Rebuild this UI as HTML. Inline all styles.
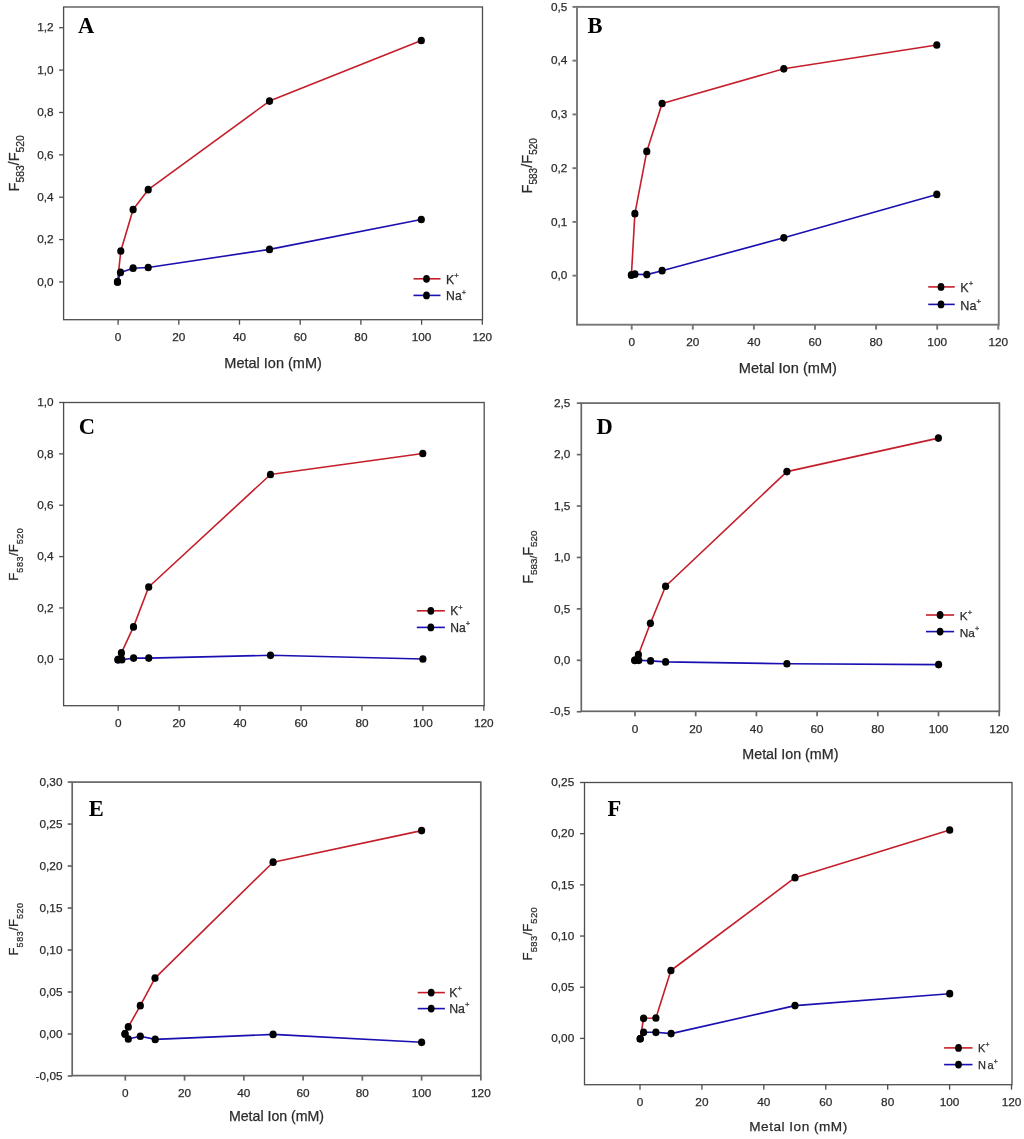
<!DOCTYPE html>
<html><head><meta charset="utf-8"><style>
html,body{margin:0;padding:0;background:#fff;}
svg{display:block;will-change:transform;}
text{font-family:"Liberation Sans",sans-serif;fill:#2b2b2b;stroke:#2b2b2b;stroke-width:0.25px;}
.tk{font-size:11.8px;}
.lg{font-size:12.3px;}
.sup{font-size:8.5px;}
.xl{font-size:14px;}
.yl{font-size:14.5px;}
.sub{font-size:9.5px;}
.pl{font-family:"Liberation Serif",serif;font-weight:bold;font-size:22.5px;fill:#000;stroke:none;}
</style></head><body>
<svg width="1024" height="1139" viewBox="0 0 1024 1139">
<rect width="1024" height="1139" fill="#fff"/>
<rect x="63.6" y="7" width="418.9" height="312.7" fill="none" stroke="#4d4d4d" stroke-width="1.3"/>
<line x1="59.1" y1="281.95" x2="63.6" y2="281.95" stroke="#4d4d4d" stroke-width="1.3"/>
<text x="53.6" y="285.65" text-anchor="end" class="tk">0,0</text>
<line x1="59.1" y1="239.58" x2="63.6" y2="239.58" stroke="#4d4d4d" stroke-width="1.3"/>
<text x="53.6" y="243.28" text-anchor="end" class="tk">0,2</text>
<line x1="59.1" y1="197.21" x2="63.6" y2="197.21" stroke="#4d4d4d" stroke-width="1.3"/>
<text x="53.6" y="200.91" text-anchor="end" class="tk">0,4</text>
<line x1="59.1" y1="154.84" x2="63.6" y2="154.84" stroke="#4d4d4d" stroke-width="1.3"/>
<text x="53.6" y="158.54" text-anchor="end" class="tk">0,6</text>
<line x1="59.1" y1="112.47" x2="63.6" y2="112.47" stroke="#4d4d4d" stroke-width="1.3"/>
<text x="53.6" y="116.17" text-anchor="end" class="tk">0,8</text>
<line x1="59.1" y1="70.1" x2="63.6" y2="70.1" stroke="#4d4d4d" stroke-width="1.3"/>
<text x="53.6" y="73.8" text-anchor="end" class="tk">1,0</text>
<line x1="59.1" y1="27.73" x2="63.6" y2="27.73" stroke="#4d4d4d" stroke-width="1.3"/>
<text x="53.6" y="31.43" text-anchor="end" class="tk">1,2</text>
<line x1="118.1" y1="319.7" x2="118.1" y2="324.7" stroke="#4d4d4d" stroke-width="1.3"/>
<text x="118.1" y="340.9" text-anchor="middle" class="tk">0</text>
<line x1="178.8" y1="319.7" x2="178.8" y2="324.7" stroke="#4d4d4d" stroke-width="1.3"/>
<text x="178.8" y="340.9" text-anchor="middle" class="tk">20</text>
<line x1="239.5" y1="319.7" x2="239.5" y2="324.7" stroke="#4d4d4d" stroke-width="1.3"/>
<text x="239.5" y="340.9" text-anchor="middle" class="tk">40</text>
<line x1="300.2" y1="319.7" x2="300.2" y2="324.7" stroke="#4d4d4d" stroke-width="1.3"/>
<text x="300.2" y="340.9" text-anchor="middle" class="tk">60</text>
<line x1="360.9" y1="319.7" x2="360.9" y2="324.7" stroke="#4d4d4d" stroke-width="1.3"/>
<text x="360.9" y="340.9" text-anchor="middle" class="tk">80</text>
<line x1="421.6" y1="319.7" x2="421.6" y2="324.7" stroke="#4d4d4d" stroke-width="1.3"/>
<text x="421.6" y="340.9" text-anchor="middle" class="tk">100</text>
<line x1="482.3" y1="319.7" x2="482.3" y2="324.7" stroke="#4d4d4d" stroke-width="1.3"/>
<text x="482.3" y="340.9" text-anchor="middle" class="tk">120</text>
<polyline points="117.5,281.9 120.8,251 133.1,209.6 148.2,189.7 269.5,101.05 421.3,40.5" fill="none" stroke="#c41e2a" stroke-width="1.6" stroke-linejoin="round"/>
<polyline points="117.5,281.9 120.5,272.4 133.1,268.2 148.2,267.5 269.5,249.4 421.3,219.5" fill="none" stroke="#1a0fb0" stroke-width="1.6" stroke-linejoin="round"/>
<ellipse cx="117.5" cy="281.9" rx="3.6" ry="3.85" fill="#000"/>
<ellipse cx="120.5" cy="272.4" rx="3.6" ry="3.85" fill="#000"/>
<ellipse cx="133.1" cy="268.2" rx="3.6" ry="3.85" fill="#000"/>
<ellipse cx="148.2" cy="267.5" rx="3.6" ry="3.85" fill="#000"/>
<ellipse cx="269.5" cy="249.4" rx="3.6" ry="3.85" fill="#000"/>
<ellipse cx="421.3" cy="219.5" rx="3.6" ry="3.85" fill="#000"/>
<ellipse cx="117.5" cy="281.9" rx="3.6" ry="3.85" fill="#000"/>
<ellipse cx="120.8" cy="251" rx="3.6" ry="3.85" fill="#000"/>
<ellipse cx="133.1" cy="209.6" rx="3.6" ry="3.85" fill="#000"/>
<ellipse cx="148.2" cy="189.7" rx="3.6" ry="3.85" fill="#000"/>
<ellipse cx="269.5" cy="101.05" rx="3.6" ry="3.85" fill="#000"/>
<ellipse cx="421.3" cy="40.5" rx="3.6" ry="3.85" fill="#000"/>
<line x1="413.5" y1="278.8" x2="440.5" y2="278.8" stroke="#c41e2a" stroke-width="1.6"/>
<line x1="413.5" y1="295.4" x2="440.5" y2="295.4" stroke="#1a0fb0" stroke-width="1.6"/>
<ellipse cx="426.5" cy="278.8" rx="3.4" ry="3.9" fill="#000"/>
<ellipse cx="426.5" cy="295.4" rx="3.4" ry="3.9" fill="#000"/>
<text x="446.08" y="283.8" class="lg" style="font-size:12.2px">K<tspan dy="-5.37" style="font-size:7.56px">+</tspan></text>
<text x="446.08" y="300.4" class="lg" style="font-size:12.2px">N<tspan dx="0">a</tspan><tspan dy="-5.37" style="font-size:7.56px">+</tspan></text>
<text x="78.1" y="33.1" class="pl">A</text>
<text x="273.05" y="367.6" text-anchor="middle" class="xl" style="font-size:14.5px;letter-spacing:0px">Metal Ion (mM)</text>
<text transform="translate(18.9,163.35) rotate(-90)" text-anchor="middle" class="yl" style="font-size:14.6px">F<tspan style="font-size:10.3px;letter-spacing:0px" dy="4.6">583</tspan><tspan dy="-4.6">/F</tspan><tspan style="font-size:10.3px;letter-spacing:0px" dy="4.6">520</tspan></text>
<rect x="577" y="6.9" width="421.75" height="317.8" fill="none" stroke="#777777" stroke-width="1.9"/>
<line x1="572.5" y1="275.65" x2="577" y2="275.65" stroke="#777777" stroke-width="1.9"/>
<text x="567.3" y="279.35" text-anchor="end" class="tk">0,0</text>
<line x1="572.5" y1="221.9" x2="577" y2="221.9" stroke="#777777" stroke-width="1.9"/>
<text x="567.3" y="225.6" text-anchor="end" class="tk">0,1</text>
<line x1="572.5" y1="168.15" x2="577" y2="168.15" stroke="#777777" stroke-width="1.9"/>
<text x="567.3" y="171.85" text-anchor="end" class="tk">0,2</text>
<line x1="572.5" y1="114.4" x2="577" y2="114.4" stroke="#777777" stroke-width="1.9"/>
<text x="567.3" y="118.1" text-anchor="end" class="tk">0,3</text>
<line x1="572.5" y1="60.65" x2="577" y2="60.65" stroke="#777777" stroke-width="1.9"/>
<text x="567.3" y="64.35" text-anchor="end" class="tk">0,4</text>
<line x1="572.5" y1="6.9" x2="577" y2="6.9" stroke="#777777" stroke-width="1.9"/>
<text x="567.3" y="10.6" text-anchor="end" class="tk">0,5</text>
<line x1="631.7" y1="324.7" x2="631.7" y2="329.7" stroke="#777777" stroke-width="1.9"/>
<text x="631.7" y="345.9" text-anchor="middle" class="tk">0</text>
<line x1="692.8" y1="324.7" x2="692.8" y2="329.7" stroke="#777777" stroke-width="1.9"/>
<text x="692.8" y="345.9" text-anchor="middle" class="tk">20</text>
<line x1="753.9" y1="324.7" x2="753.9" y2="329.7" stroke="#777777" stroke-width="1.9"/>
<text x="753.9" y="345.9" text-anchor="middle" class="tk">40</text>
<line x1="815" y1="324.7" x2="815" y2="329.7" stroke="#777777" stroke-width="1.9"/>
<text x="815" y="345.9" text-anchor="middle" class="tk">60</text>
<line x1="876.1" y1="324.7" x2="876.1" y2="329.7" stroke="#777777" stroke-width="1.9"/>
<text x="876.1" y="345.9" text-anchor="middle" class="tk">80</text>
<line x1="937.2" y1="324.7" x2="937.2" y2="329.7" stroke="#777777" stroke-width="1.9"/>
<text x="937.2" y="345.9" text-anchor="middle" class="tk">100</text>
<line x1="998.3" y1="324.7" x2="998.3" y2="329.7" stroke="#777777" stroke-width="1.9"/>
<text x="998.3" y="345.9" text-anchor="middle" class="tk">120</text>
<polyline points="631.4,275 634.9,213.7 646.8,151.4 662.1,103.5 783.8,68.8 936.8,45" fill="none" stroke="#c41e2a" stroke-width="1.6" stroke-linejoin="round"/>
<polyline points="631.4,275 634.9,274.2 646.8,274.6 662.1,270.7 783.8,237.8 936.8,194.4" fill="none" stroke="#1a0fb0" stroke-width="1.6" stroke-linejoin="round"/>
<ellipse cx="631.4" cy="275" rx="3.6" ry="3.85" fill="#000"/>
<ellipse cx="634.9" cy="274.2" rx="3.6" ry="3.85" fill="#000"/>
<ellipse cx="646.8" cy="274.6" rx="3.6" ry="3.85" fill="#000"/>
<ellipse cx="662.1" cy="270.7" rx="3.6" ry="3.85" fill="#000"/>
<ellipse cx="783.8" cy="237.8" rx="3.6" ry="3.85" fill="#000"/>
<ellipse cx="936.8" cy="194.4" rx="3.6" ry="3.85" fill="#000"/>
<ellipse cx="631.4" cy="275" rx="3.6" ry="3.85" fill="#000"/>
<ellipse cx="634.9" cy="213.7" rx="3.6" ry="3.85" fill="#000"/>
<ellipse cx="646.8" cy="151.4" rx="3.6" ry="3.85" fill="#000"/>
<ellipse cx="662.1" cy="103.5" rx="3.6" ry="3.85" fill="#000"/>
<ellipse cx="783.8" cy="68.8" rx="3.6" ry="3.85" fill="#000"/>
<ellipse cx="936.8" cy="45" rx="3.6" ry="3.85" fill="#000"/>
<line x1="928.25" y1="286.9" x2="954.75" y2="286.9" stroke="#c41e2a" stroke-width="1.6"/>
<line x1="928.25" y1="304.4" x2="954.75" y2="304.4" stroke="#1a0fb0" stroke-width="1.6"/>
<ellipse cx="941" cy="286.9" rx="3.4" ry="3.9" fill="#000"/>
<ellipse cx="941" cy="304.4" rx="3.4" ry="3.9" fill="#000"/>
<text x="960.3" y="292" class="lg" style="font-size:12.6px">K<tspan dy="-5.54" style="font-size:7.81px">+</tspan></text>
<text x="960.3" y="309.5" class="lg" style="font-size:12.6px">N<tspan dx="0">a</tspan><tspan dy="-5.54" style="font-size:7.81px">+</tspan></text>
<text x="587.5" y="33.1" class="pl">B</text>
<text x="787.88" y="372.6" text-anchor="middle" class="xl" style="font-size:14.6px;letter-spacing:0px">Metal Ion (mM)</text>
<text transform="translate(532.3,165.8) rotate(-90)" text-anchor="middle" class="yl" style="font-size:14.6px">F<tspan style="font-size:10.0px;letter-spacing:0px" dy="4.8">583</tspan><tspan dy="-4.8">/F</tspan><tspan style="font-size:10.0px;letter-spacing:0px" dy="4.8">520</tspan></text>
<rect x="63.6" y="402.5" width="420.6" height="303.2" fill="none" stroke="#4d4d4d" stroke-width="1.3"/>
<line x1="59.1" y1="659.3" x2="63.6" y2="659.3" stroke="#4d4d4d" stroke-width="1.3"/>
<text x="53.6" y="663" text-anchor="end" class="tk">0,0</text>
<line x1="59.1" y1="607.94" x2="63.6" y2="607.94" stroke="#4d4d4d" stroke-width="1.3"/>
<text x="53.6" y="611.64" text-anchor="end" class="tk">0,2</text>
<line x1="59.1" y1="556.58" x2="63.6" y2="556.58" stroke="#4d4d4d" stroke-width="1.3"/>
<text x="53.6" y="560.28" text-anchor="end" class="tk">0,4</text>
<line x1="59.1" y1="505.22" x2="63.6" y2="505.22" stroke="#4d4d4d" stroke-width="1.3"/>
<text x="53.6" y="508.92" text-anchor="end" class="tk">0,6</text>
<line x1="59.1" y1="453.86" x2="63.6" y2="453.86" stroke="#4d4d4d" stroke-width="1.3"/>
<text x="53.6" y="457.56" text-anchor="end" class="tk">0,8</text>
<line x1="59.1" y1="402.5" x2="63.6" y2="402.5" stroke="#4d4d4d" stroke-width="1.3"/>
<text x="53.6" y="406.2" text-anchor="end" class="tk">1,0</text>
<line x1="118.2" y1="705.7" x2="118.2" y2="710.7" stroke="#4d4d4d" stroke-width="1.3"/>
<text x="118.2" y="726.9" text-anchor="middle" class="tk">0</text>
<line x1="179.14" y1="705.7" x2="179.14" y2="710.7" stroke="#4d4d4d" stroke-width="1.3"/>
<text x="179.14" y="726.9" text-anchor="middle" class="tk">20</text>
<line x1="240.08" y1="705.7" x2="240.08" y2="710.7" stroke="#4d4d4d" stroke-width="1.3"/>
<text x="240.08" y="726.9" text-anchor="middle" class="tk">40</text>
<line x1="301.02" y1="705.7" x2="301.02" y2="710.7" stroke="#4d4d4d" stroke-width="1.3"/>
<text x="301.02" y="726.9" text-anchor="middle" class="tk">60</text>
<line x1="361.96" y1="705.7" x2="361.96" y2="710.7" stroke="#4d4d4d" stroke-width="1.3"/>
<text x="361.96" y="726.9" text-anchor="middle" class="tk">80</text>
<line x1="422.9" y1="705.7" x2="422.9" y2="710.7" stroke="#4d4d4d" stroke-width="1.3"/>
<text x="422.9" y="726.9" text-anchor="middle" class="tk">100</text>
<line x1="483.84" y1="705.7" x2="483.84" y2="710.7" stroke="#4d4d4d" stroke-width="1.3"/>
<text x="483.84" y="726.9" text-anchor="middle" class="tk">120</text>
<polyline points="118,659.7 121.4,652.9 133.5,626.9 148.7,587 270.5,474.5 422.8,453.5" fill="none" stroke="#c41e2a" stroke-width="1.6" stroke-linejoin="round"/>
<polyline points="118,659.7 121.9,659.7 133.6,658.1 148.75,658.1 270.5,655.3 422.9,659" fill="none" stroke="#1a0fb0" stroke-width="1.6" stroke-linejoin="round"/>
<ellipse cx="118" cy="659.7" rx="3.6" ry="3.85" fill="#000"/>
<ellipse cx="121.9" cy="659.7" rx="3.6" ry="3.85" fill="#000"/>
<ellipse cx="133.6" cy="658.1" rx="3.6" ry="3.85" fill="#000"/>
<ellipse cx="148.75" cy="658.1" rx="3.6" ry="3.85" fill="#000"/>
<ellipse cx="270.5" cy="655.3" rx="3.6" ry="3.85" fill="#000"/>
<ellipse cx="422.9" cy="659" rx="3.6" ry="3.85" fill="#000"/>
<ellipse cx="118" cy="659.7" rx="3.6" ry="3.85" fill="#000"/>
<ellipse cx="121.4" cy="652.9" rx="3.6" ry="3.85" fill="#000"/>
<ellipse cx="133.5" cy="626.9" rx="3.6" ry="3.85" fill="#000"/>
<ellipse cx="148.7" cy="587" rx="3.6" ry="3.85" fill="#000"/>
<ellipse cx="270.5" cy="474.5" rx="3.6" ry="3.85" fill="#000"/>
<ellipse cx="422.8" cy="453.5" rx="3.6" ry="3.85" fill="#000"/>
<line x1="416.8" y1="610.8" x2="444.9" y2="610.8" stroke="#c41e2a" stroke-width="1.6"/>
<line x1="416.8" y1="627.4" x2="444.9" y2="627.4" stroke="#1a0fb0" stroke-width="1.6"/>
<ellipse cx="430.8" cy="610.8" rx="3.4" ry="3.9" fill="#000"/>
<ellipse cx="430.8" cy="627.4" rx="3.4" ry="3.9" fill="#000"/>
<text x="450.19" y="615.2" class="lg" style="font-size:12.1px">K<tspan dy="-5.32" style="font-size:7.5px">+</tspan></text>
<text x="450.19" y="631.8" class="lg" style="font-size:12.1px">N<tspan dx="0">a</tspan><tspan dy="-5.32" style="font-size:7.5px">+</tspan></text>
<text x="78.75" y="433.75" class="pl">C</text>
<text transform="translate(17.9,554.1) rotate(-90)" text-anchor="middle" class="yl" style="font-size:13.0px">F<tspan style="font-size:9.0px;letter-spacing:0.6px" dy="5.4">583</tspan><tspan dy="-5.4">/F</tspan><tspan style="font-size:9.0px;letter-spacing:0.6px" dy="5.4">520</tspan></text>
<rect x="581.3" y="403.1" width="418.1" height="308.2" fill="none" stroke="#666666" stroke-width="1.7"/>
<line x1="576.8" y1="711.72" x2="581.3" y2="711.72" stroke="#666666" stroke-width="1.7"/>
<text x="570.3" y="715.42" text-anchor="end" class="tk">-0,5</text>
<line x1="576.8" y1="660.3" x2="581.3" y2="660.3" stroke="#666666" stroke-width="1.7"/>
<text x="570.3" y="664" text-anchor="end" class="tk">0,0</text>
<line x1="576.8" y1="608.88" x2="581.3" y2="608.88" stroke="#666666" stroke-width="1.7"/>
<text x="570.3" y="612.58" text-anchor="end" class="tk">0,5</text>
<line x1="576.8" y1="557.45" x2="581.3" y2="557.45" stroke="#666666" stroke-width="1.7"/>
<text x="570.3" y="561.15" text-anchor="end" class="tk">1,0</text>
<line x1="576.8" y1="506.02" x2="581.3" y2="506.02" stroke="#666666" stroke-width="1.7"/>
<text x="570.3" y="509.72" text-anchor="end" class="tk">1,5</text>
<line x1="576.8" y1="454.6" x2="581.3" y2="454.6" stroke="#666666" stroke-width="1.7"/>
<text x="570.3" y="458.3" text-anchor="end" class="tk">2,0</text>
<line x1="576.8" y1="403.17" x2="581.3" y2="403.17" stroke="#666666" stroke-width="1.7"/>
<text x="570.3" y="406.87" text-anchor="end" class="tk">2,5</text>
<line x1="635" y1="711.3" x2="635" y2="716.3" stroke="#666666" stroke-width="1.7"/>
<text x="635" y="732.5" text-anchor="middle" class="tk">0</text>
<line x1="695.7" y1="711.3" x2="695.7" y2="716.3" stroke="#666666" stroke-width="1.7"/>
<text x="695.7" y="732.5" text-anchor="middle" class="tk">20</text>
<line x1="756.4" y1="711.3" x2="756.4" y2="716.3" stroke="#666666" stroke-width="1.7"/>
<text x="756.4" y="732.5" text-anchor="middle" class="tk">40</text>
<line x1="817.1" y1="711.3" x2="817.1" y2="716.3" stroke="#666666" stroke-width="1.7"/>
<text x="817.1" y="732.5" text-anchor="middle" class="tk">60</text>
<line x1="877.8" y1="711.3" x2="877.8" y2="716.3" stroke="#666666" stroke-width="1.7"/>
<text x="877.8" y="732.5" text-anchor="middle" class="tk">80</text>
<line x1="938.5" y1="711.3" x2="938.5" y2="716.3" stroke="#666666" stroke-width="1.7"/>
<text x="938.5" y="732.5" text-anchor="middle" class="tk">100</text>
<line x1="999.2" y1="711.3" x2="999.2" y2="716.3" stroke="#666666" stroke-width="1.7"/>
<text x="999.2" y="732.5" text-anchor="middle" class="tk">120</text>
<polyline points="634.8,660.3 638.4,654.7 650.4,623.3 665.6,586.25 786.9,471.6 938.4,438.1" fill="none" stroke="#c41e2a" stroke-width="1.6" stroke-linejoin="round"/>
<polyline points="634.8,660.3 638.75,660.3 650.6,660.9 665.6,661.9 786.9,663.75 938.6,664.6" fill="none" stroke="#1a0fb0" stroke-width="1.6" stroke-linejoin="round"/>
<ellipse cx="634.8" cy="660.3" rx="3.6" ry="3.85" fill="#000"/>
<ellipse cx="638.75" cy="660.3" rx="3.6" ry="3.85" fill="#000"/>
<ellipse cx="650.6" cy="660.9" rx="3.6" ry="3.85" fill="#000"/>
<ellipse cx="665.6" cy="661.9" rx="3.6" ry="3.85" fill="#000"/>
<ellipse cx="786.9" cy="663.75" rx="3.6" ry="3.85" fill="#000"/>
<ellipse cx="938.6" cy="664.6" rx="3.6" ry="3.85" fill="#000"/>
<ellipse cx="634.8" cy="660.3" rx="3.6" ry="3.85" fill="#000"/>
<ellipse cx="638.4" cy="654.7" rx="3.6" ry="3.85" fill="#000"/>
<ellipse cx="650.4" cy="623.3" rx="3.6" ry="3.85" fill="#000"/>
<ellipse cx="665.6" cy="586.25" rx="3.6" ry="3.85" fill="#000"/>
<ellipse cx="786.9" cy="471.6" rx="3.6" ry="3.85" fill="#000"/>
<ellipse cx="938.4" cy="438.1" rx="3.6" ry="3.85" fill="#000"/>
<line x1="926" y1="615" x2="954.1" y2="615" stroke="#c41e2a" stroke-width="1.6"/>
<line x1="926" y1="631.6" x2="954.1" y2="631.6" stroke="#1a0fb0" stroke-width="1.6"/>
<ellipse cx="940.1" cy="615" rx="3.4" ry="3.9" fill="#000"/>
<ellipse cx="940.1" cy="631.6" rx="3.4" ry="3.9" fill="#000"/>
<text x="959.82" y="620" class="lg" style="font-size:11.8px">K<tspan dy="-5.19" style="font-size:7.32px">+</tspan></text>
<text x="959.82" y="636.6" class="lg" style="font-size:11.8px">N<tspan dx="0">a</tspan><tspan dy="-5.19" style="font-size:7.32px">+</tspan></text>
<text x="596.5" y="433.75" class="pl">D</text>
<text x="790.35" y="758.9" text-anchor="middle" class="xl" style="font-size:14.3px;letter-spacing:0px">Metal Ion (mM)</text>
<text transform="translate(532.5,557.2) rotate(-90)" text-anchor="middle" class="yl" style="font-size:14.6px">F<tspan style="font-size:9.8px;letter-spacing:0px" dy="4.6">583/</tspan><tspan dy="-4.6">F</tspan><tspan style="font-size:9.8px;letter-spacing:0px" dy="4.6">520</tspan></text>
<rect x="72.2" y="782.1" width="408.6" height="293.5" fill="none" stroke="#666666" stroke-width="1.7"/>
<line x1="67.7" y1="1075.98" x2="72.2" y2="1075.98" stroke="#666666" stroke-width="1.7"/>
<text x="62.5" y="1079.68" text-anchor="end" class="tk">-0,05</text>
<line x1="67.7" y1="1034" x2="72.2" y2="1034" stroke="#666666" stroke-width="1.7"/>
<text x="62.5" y="1037.7" text-anchor="end" class="tk">0,00</text>
<line x1="67.7" y1="992.01" x2="72.2" y2="992.01" stroke="#666666" stroke-width="1.7"/>
<text x="62.5" y="995.72" text-anchor="end" class="tk">0,05</text>
<line x1="67.7" y1="950.03" x2="72.2" y2="950.03" stroke="#666666" stroke-width="1.7"/>
<text x="62.5" y="953.73" text-anchor="end" class="tk">0,10</text>
<line x1="67.7" y1="908.04" x2="72.2" y2="908.04" stroke="#666666" stroke-width="1.7"/>
<text x="62.5" y="911.75" text-anchor="end" class="tk">0,15</text>
<line x1="67.7" y1="866.06" x2="72.2" y2="866.06" stroke="#666666" stroke-width="1.7"/>
<text x="62.5" y="869.76" text-anchor="end" class="tk">0,20</text>
<line x1="67.7" y1="824.08" x2="72.2" y2="824.08" stroke="#666666" stroke-width="1.7"/>
<text x="62.5" y="827.78" text-anchor="end" class="tk">0,25</text>
<line x1="67.7" y1="782.09" x2="72.2" y2="782.09" stroke="#666666" stroke-width="1.7"/>
<text x="62.5" y="785.79" text-anchor="end" class="tk">0,30</text>
<line x1="125.3" y1="1075.6" x2="125.3" y2="1080.6" stroke="#666666" stroke-width="1.7"/>
<text x="125.3" y="1096.8" text-anchor="middle" class="tk">0</text>
<line x1="184.56" y1="1075.6" x2="184.56" y2="1080.6" stroke="#666666" stroke-width="1.7"/>
<text x="184.56" y="1096.8" text-anchor="middle" class="tk">20</text>
<line x1="243.82" y1="1075.6" x2="243.82" y2="1080.6" stroke="#666666" stroke-width="1.7"/>
<text x="243.82" y="1096.8" text-anchor="middle" class="tk">40</text>
<line x1="303.08" y1="1075.6" x2="303.08" y2="1080.6" stroke="#666666" stroke-width="1.7"/>
<text x="303.08" y="1096.8" text-anchor="middle" class="tk">60</text>
<line x1="362.34" y1="1075.6" x2="362.34" y2="1080.6" stroke="#666666" stroke-width="1.7"/>
<text x="362.34" y="1096.8" text-anchor="middle" class="tk">80</text>
<line x1="421.6" y1="1075.6" x2="421.6" y2="1080.6" stroke="#666666" stroke-width="1.7"/>
<text x="421.6" y="1096.8" text-anchor="middle" class="tk">100</text>
<line x1="480.86" y1="1075.6" x2="480.86" y2="1080.6" stroke="#666666" stroke-width="1.7"/>
<text x="480.86" y="1096.8" text-anchor="middle" class="tk">120</text>
<polyline points="125,1033.9 128.3,1026.9 140.3,1005.7 155,978.1 273.1,862.2 421.6,830.6" fill="none" stroke="#c41e2a" stroke-width="1.6" stroke-linejoin="round"/>
<polyline points="125,1033.9 128.3,1039 140.3,1036.25 155.2,1039.4 273.1,1034.4 421.6,1042.3" fill="none" stroke="#1a0fb0" stroke-width="1.6" stroke-linejoin="round"/>
<ellipse cx="125" cy="1033.9" rx="3.6" ry="3.85" fill="#000"/>
<ellipse cx="128.3" cy="1039" rx="3.6" ry="3.85" fill="#000"/>
<ellipse cx="140.3" cy="1036.25" rx="3.6" ry="3.85" fill="#000"/>
<ellipse cx="155.2" cy="1039.4" rx="3.6" ry="3.85" fill="#000"/>
<ellipse cx="273.1" cy="1034.4" rx="3.6" ry="3.85" fill="#000"/>
<ellipse cx="421.6" cy="1042.3" rx="3.6" ry="3.85" fill="#000"/>
<ellipse cx="125" cy="1033.9" rx="3.6" ry="3.85" fill="#000"/>
<ellipse cx="128.3" cy="1026.9" rx="3.6" ry="3.85" fill="#000"/>
<ellipse cx="140.3" cy="1005.7" rx="3.6" ry="3.85" fill="#000"/>
<ellipse cx="155" cy="978.1" rx="3.6" ry="3.85" fill="#000"/>
<ellipse cx="273.1" cy="862.2" rx="3.6" ry="3.85" fill="#000"/>
<ellipse cx="421.6" cy="830.6" rx="3.6" ry="3.85" fill="#000"/>
<line x1="417.7" y1="992.6" x2="444.9" y2="992.6" stroke="#c41e2a" stroke-width="1.6"/>
<line x1="417.7" y1="1008.6" x2="444.9" y2="1008.6" stroke="#1a0fb0" stroke-width="1.6"/>
<ellipse cx="431.2" cy="992.6" rx="3.4" ry="3.9" fill="#000"/>
<ellipse cx="431.2" cy="1008.6" rx="3.4" ry="3.9" fill="#000"/>
<text x="449.18" y="996.6" class="lg" style="font-size:12.3px">K<tspan dy="-5.41" style="font-size:7.63px">+</tspan></text>
<text x="449.18" y="1012.6" class="lg" style="font-size:12.3px">N<tspan dx="0">a</tspan><tspan dy="-5.41" style="font-size:7.63px">+</tspan></text>
<text x="88.75" y="815.6" class="pl">E</text>
<text x="276.5" y="1120.9" text-anchor="middle" class="xl" style="font-size:14.15px;letter-spacing:0px">Metal Ion (mM)</text>
<text transform="translate(17.9,928.85) rotate(-90)" text-anchor="middle" class="yl" style="font-size:13.0px">F<tspan style="font-size:9.0px;letter-spacing:0.6px" dy="5.4">583</tspan><tspan dy="-5.4">/F</tspan><tspan style="font-size:9.0px;letter-spacing:0.6px" dy="5.4">520</tspan></text>
<rect x="584.5" y="782.5" width="427.5" height="302.2" fill="none" stroke="#4d4d4d" stroke-width="1.3"/>
<line x1="580" y1="1038.4" x2="584.5" y2="1038.4" stroke="#4d4d4d" stroke-width="1.3"/>
<text x="574.25" y="1042.1" text-anchor="end" class="tk">0,00</text>
<line x1="580" y1="987.22" x2="584.5" y2="987.22" stroke="#4d4d4d" stroke-width="1.3"/>
<text x="574.25" y="990.92" text-anchor="end" class="tk">0,05</text>
<line x1="580" y1="936.04" x2="584.5" y2="936.04" stroke="#4d4d4d" stroke-width="1.3"/>
<text x="574.25" y="939.74" text-anchor="end" class="tk">0,10</text>
<line x1="580" y1="884.86" x2="584.5" y2="884.86" stroke="#4d4d4d" stroke-width="1.3"/>
<text x="574.25" y="888.56" text-anchor="end" class="tk">0,15</text>
<line x1="580" y1="833.68" x2="584.5" y2="833.68" stroke="#4d4d4d" stroke-width="1.3"/>
<text x="574.25" y="837.38" text-anchor="end" class="tk">0,20</text>
<line x1="580" y1="782.5" x2="584.5" y2="782.5" stroke="#4d4d4d" stroke-width="1.3"/>
<text x="574.25" y="786.2" text-anchor="end" class="tk">0,25</text>
<line x1="640" y1="1084.7" x2="640" y2="1089.7" stroke="#4d4d4d" stroke-width="1.3"/>
<text x="640" y="1105.9" text-anchor="middle" class="tk">0</text>
<line x1="701.92" y1="1084.7" x2="701.92" y2="1089.7" stroke="#4d4d4d" stroke-width="1.3"/>
<text x="701.92" y="1105.9" text-anchor="middle" class="tk">20</text>
<line x1="763.84" y1="1084.7" x2="763.84" y2="1089.7" stroke="#4d4d4d" stroke-width="1.3"/>
<text x="763.84" y="1105.9" text-anchor="middle" class="tk">40</text>
<line x1="825.76" y1="1084.7" x2="825.76" y2="1089.7" stroke="#4d4d4d" stroke-width="1.3"/>
<text x="825.76" y="1105.9" text-anchor="middle" class="tk">60</text>
<line x1="887.68" y1="1084.7" x2="887.68" y2="1089.7" stroke="#4d4d4d" stroke-width="1.3"/>
<text x="887.68" y="1105.9" text-anchor="middle" class="tk">80</text>
<line x1="949.6" y1="1084.7" x2="949.6" y2="1089.7" stroke="#4d4d4d" stroke-width="1.3"/>
<text x="949.6" y="1105.9" text-anchor="middle" class="tk">100</text>
<line x1="1011.52" y1="1084.7" x2="1011.52" y2="1089.7" stroke="#4d4d4d" stroke-width="1.3"/>
<text x="1011.52" y="1105.9" text-anchor="middle" class="tk">120</text>
<polyline points="640.2,1038.75 643.6,1018.3 655.9,1018 670.9,970.5 795,877.7 949.7,830" fill="none" stroke="#c41e2a" stroke-width="1.6" stroke-linejoin="round"/>
<polyline points="640.2,1038.75 643.6,1032.3 655.9,1032.3 671.1,1033.6 795,1005.6 949.7,993.7" fill="none" stroke="#1a0fb0" stroke-width="1.6" stroke-linejoin="round"/>
<ellipse cx="640.2" cy="1038.75" rx="3.6" ry="3.85" fill="#000"/>
<ellipse cx="643.6" cy="1032.3" rx="3.6" ry="3.85" fill="#000"/>
<ellipse cx="655.9" cy="1032.3" rx="3.6" ry="3.85" fill="#000"/>
<ellipse cx="671.1" cy="1033.6" rx="3.6" ry="3.85" fill="#000"/>
<ellipse cx="795" cy="1005.6" rx="3.6" ry="3.85" fill="#000"/>
<ellipse cx="949.7" cy="993.7" rx="3.6" ry="3.85" fill="#000"/>
<ellipse cx="640.2" cy="1038.75" rx="3.6" ry="3.85" fill="#000"/>
<ellipse cx="643.6" cy="1018.3" rx="3.6" ry="3.85" fill="#000"/>
<ellipse cx="655.9" cy="1018" rx="3.6" ry="3.85" fill="#000"/>
<ellipse cx="670.9" cy="970.5" rx="3.6" ry="3.85" fill="#000"/>
<ellipse cx="795" cy="877.7" rx="3.6" ry="3.85" fill="#000"/>
<ellipse cx="949.7" cy="830" rx="3.6" ry="3.85" fill="#000"/>
<line x1="944.1" y1="1047.9" x2="972.5" y2="1047.9" stroke="#c41e2a" stroke-width="1.6"/>
<line x1="944.1" y1="1064.6" x2="972.5" y2="1064.6" stroke="#1a0fb0" stroke-width="1.6"/>
<ellipse cx="958.5" cy="1047.9" rx="3.4" ry="3.9" fill="#000"/>
<ellipse cx="958.5" cy="1064.6" rx="3.4" ry="3.9" fill="#000"/>
<text x="978.07" y="1052" class="lg" style="font-size:11.0px">K<tspan dy="-4.84" style="font-size:6.82px">+</tspan></text>
<text x="978.07" y="1068.7" class="lg" style="font-size:11.0px">N<tspan dx="1.5">a</tspan><tspan dy="-4.84" style="font-size:6.82px">+</tspan></text>
<text x="607.5" y="815.6" class="pl">F</text>
<text x="798.5" y="1130.8" text-anchor="middle" class="xl" style="font-size:13.6px;letter-spacing:0.5px">Metal Ion (mM)</text>
<text transform="translate(531.5,933.6) rotate(-90)" text-anchor="middle" class="yl" style="font-size:13.3px">F<tspan style="font-size:9.4px;letter-spacing:0.4px" dy="5.2">583</tspan><tspan dy="-5.2">/F</tspan><tspan style="font-size:9.4px;letter-spacing:0.4px" dy="5.2">520</tspan></text>
</svg>
</body></html>
